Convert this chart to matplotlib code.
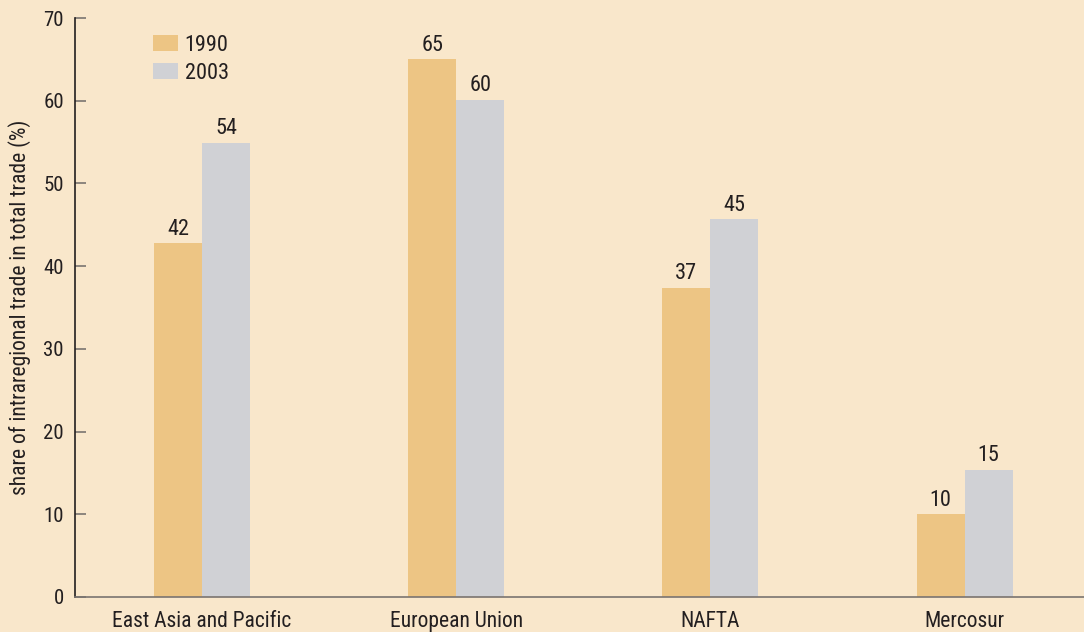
import matplotlib
matplotlib.use("Agg")
import matplotlib.pyplot as plt
import numpy as np

categories = ["East Asia and Pacific", "European Union", "NAFTA", "Mercosur"]
series_names = ["1990", "2003"]
values_1990 = [42.8, 65.0, 37.4, 10.0]
values_2003 = [54.9, 60.1, 45.7, 15.4]
labels_1990 = ["42", "65", "37", "10"]
labels_2003 = ["54", "60", "45", "15"]
yticks = [0, 10, 20, 30, 40, 50, 60, 70]

BG = "#F9E7CB"
C1990 = "#EDC584"
C2003 = "#D0D1D5"
TXT = "#231F20"
FONT = ["Roboto Condensed", "Archivo Narrow", "DejaVu Sans"]
plt.rcParams["font.family"] = FONT

fig = plt.figure(figsize=(10.84, 6.32), dpi=100, facecolor=BG)
ax = fig.add_axes([75/1084, 1-597/632, 1-75/1084, (597-18)/632])
ax.set_facecolor(BG)

x = np.arange(len(categories))
w = 0.189
b1 = ax.bar(x - w/2, values_1990, w, color=C1990, label=series_names[0], zorder=2)
b2 = ax.bar(x + w/2, values_2003, w, color=C2003, label=series_names[1], zorder=2)

for bars, labs in ((b1, labels_1990), (b2, labels_2003)):
    for rect, lab in zip(bars, labs):
        ax.annotate(lab, (rect.get_x() + rect.get_width()/2, rect.get_height()),
                    xytext=(0, 2.5), textcoords="offset points", ha="center", va="bottom",
                    fontsize=16, color=TXT)

ax.set_xlim(-0.5, 3.47)
ax.set_ylim(0, 70)
ax.set_yticks(yticks)
ax.set_yticklabels([str(t) for t in yticks], fontsize=15, color=TXT)
ax.set_xticks(x)
ax.set_xticklabels(categories, fontsize=15.5, color=TXT)
ax.tick_params(axis="x", length=0, pad=10)
ax.tick_params(axis="y", direction="in", length=8, width=1.2, color="#7a7470", pad=8)

for s in ["top", "right"]:
    ax.spines[s].set_visible(False)
ax.spines["left"].set_color(TXT)
ax.spines["left"].set_linewidth(1.2)
ax.spines["bottom"].set_color("#7a7470")
ax.spines["bottom"].set_linewidth(1.2)

ax.set_ylabel("share of intraregional trade in total trade (%)", fontsize=15.5, color=TXT, labelpad=9)

leg = ax.legend(loc="upper left", bbox_to_anchor=(0.068, 0.986), frameon=False,
                fontsize=16, handlelength=1.15, handleheight=0.75, handletextpad=0.3,
                labelspacing=0.3, borderaxespad=0)
for t in leg.get_texts():
    t.set_color(TXT)

fig.savefig("out.png", dpi=100, facecolor=BG)
